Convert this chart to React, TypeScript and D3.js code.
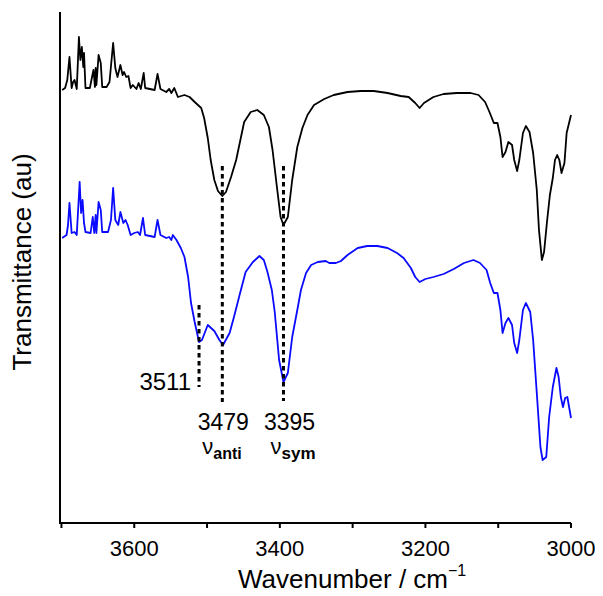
import React from "react";
import * as d3 from "d3";

// [wavenumber (cm-1), transmittance (au)]
const blackSpectrum: [number, number][] = [
  [3699, 433], [3695, 435], [3692, 443], [3689, 466], [3686, 435], [3684, 441], [3682, 443], [3679, 434],
  [3676, 486], [3674, 463], [3672, 476], [3670, 456], [3669, 470], [3667, 435], [3661, 435], [3658, 446],
  [3656, 453], [3654, 436], [3653, 455], [3652, 438], [3649, 468], [3646, 460], [3644, 436], [3638, 436],
  [3634, 441], [3629, 480], [3626, 455], [3623, 446], [3619, 458], [3616, 448], [3614, 451], [3611, 446],
  [3608, 447], [3605, 435], [3602, 438], [3597, 434], [3594, 440], [3591, 434], [3587, 450], [3585, 435],
  [3572, 433], [3568, 449], [3564, 434], [3556, 431], [3552, 434], [3549, 430], [3545, 435], [3540, 426],
  [3531, 428], [3524, 426], [3517, 421], [3508, 415], [3504, 405], [3499, 385], [3495, 363], [3490, 343],
  [3485, 332], [3479, 327], [3474, 331], [3467, 346], [3460, 363], [3449, 401], [3440, 411], [3431, 413],
  [3422, 408], [3415, 396], [3410, 373], [3404, 336], [3399, 306], [3395, 298], [3389, 306], [3383, 343],
  [3376, 376], [3369, 395], [3362, 408], [3353, 418], [3339, 424], [3326, 428], [3307, 431], [3289, 432],
  [3271, 432], [3252, 430], [3234, 427], [3223, 426], [3214, 420], [3208, 415], [3202, 420], [3189, 426],
  [3175, 429], [3157, 430], [3138, 430], [3127, 428], [3118, 421], [3112, 411], [3106, 400], [3101, 400],
  [3097, 386], [3094, 366], [3090, 371], [3086, 381], [3081, 378], [3078, 363], [3074, 352], [3071, 363],
  [3066, 390], [3062, 397], [3057, 391], [3052, 370], [3047, 333], [3044, 293], [3040, 263], [3037, 271],
  [3033, 301], [3029, 328], [3025, 345], [3022, 363], [3019, 368], [3016, 363], [3013, 350], [3009, 360],
  [3006, 390], [3000, 408],
];

const blueSpectrum: [number, number][] = [
  [3699, 285], [3693, 288], [3691, 298], [3689, 320], [3686, 290], [3682, 291], [3679, 288], [3675, 341],
  [3673, 310], [3671, 323], [3669, 300], [3667, 291], [3660, 290], [3657, 306], [3655, 290], [3653, 308],
  [3652, 290], [3649, 321], [3646, 313], [3644, 291], [3636, 291], [3632, 303], [3629, 335], [3626, 303],
  [3622, 298], [3619, 311], [3615, 300], [3612, 303], [3609, 298], [3605, 288], [3600, 290], [3595, 291],
  [3592, 288], [3588, 305], [3585, 288], [3572, 286], [3568, 303], [3564, 288], [3556, 285], [3552, 286],
  [3549, 283], [3547, 288], [3542, 283], [3536, 275], [3531, 266], [3526, 246], [3522, 220], [3517, 201],
  [3511, 181], [3507, 183], [3499, 198], [3490, 192], [3483, 183], [3478, 178], [3469, 190], [3463, 206],
  [3456, 226], [3447, 251], [3437, 261], [3428, 267], [3422, 263], [3417, 251], [3411, 233], [3407, 211],
  [3401, 163], [3395, 141], [3389, 150], [3383, 186], [3376, 213], [3371, 233], [3364, 250], [3357, 258],
  [3348, 261], [3337, 262], [3332, 260], [3323, 260], [3316, 262], [3307, 268], [3293, 275], [3280, 277],
  [3266, 277], [3252, 275], [3239, 270], [3230, 265], [3220, 255], [3214, 246], [3208, 241], [3200, 244],
  [3189, 246], [3175, 249], [3161, 254], [3147, 260], [3134, 263], [3125, 260], [3116, 253], [3111, 240],
  [3106, 230], [3101, 230], [3097, 213], [3094, 190], [3090, 200], [3086, 205], [3081, 198], [3078, 180],
  [3074, 170], [3071, 183], [3066, 213], [3062, 220], [3056, 211], [3052, 183], [3047, 130], [3042, 76],
  [3039, 63], [3034, 66], [3030, 106], [3025, 136], [3020, 155], [3017, 146], [3014, 126], [3011, 116],
  [3008, 125], [3005, 126], [3000, 105],
];

const xTicks = [3700, 3600, 3500, 3400, 3300, 3200, 3100, 3000];
const xTickLabels = [3600, 3400, 3200, 3000];

// peak markers: wavenumber, top/bottom of dotted line (au)
const peakWn = [3511, 3479, 3395];
const peakTop = [218, 357, 357];
const peakBottom = [136, 121, 122];
const peakLabels = ["3511", "3479", "3395"];
const modeLabels = ["", "anti", "sym"];

const W = 603;
const H = 596;
const FONT = "'Liberation Sans', Arial, Helvetica, sans-serif";

export default function App() {
  const x = d3.scaleLinear().domain([3702, 3000]).range([60, 571]);
  const y = d3.scaleLinear().domain([0, 511]).range([523, 12]);
  const line = d3
    .line<[number, number]>()
    .x((d) => x(d[0]))
    .y((d) => y(d[1]));

  return (
    <svg
      width={W}
      height={H}
      style={{ position: "absolute", left: 0, top: 0, background: "#fff" }}
      fontFamily={FONT}
    >
      <rect x={0} y={0} width={W} height={H} fill="#fff" />
      {/* curves */}
      <path d={line(blackSpectrum) || ""} fill="none" stroke="#000" strokeWidth={1.8} strokeLinejoin="round" />
      <path d={line(blueSpectrum) || ""} fill="none" stroke="#0a0aff" strokeWidth={1.8} strokeLinejoin="round" />

      {/* dotted markers */}
      {peakWn.map((w, i) => (
        <line
          key={"pk" + i}
          x1={x(w)}
          x2={x(w)}
          y1={y(peakTop[i])}
          y2={y(peakBottom[i])}
          stroke="#000"
          strokeWidth={3}
          strokeDasharray="4.5,3.5"
        />
      ))}

      {/* annotations */}
      <text x={x(peakWn[0]) - 8} y={390} fontSize={24} textAnchor="end" fill="#000">
        {peakLabels[0]}
      </text>
      <text x={x(peakWn[1]) + 1} y={430} fontSize={23} textAnchor="middle" fill="#000">
        {peakLabels[1]}
      </text>
      <text x={x(peakWn[2]) + 6} y={430} fontSize={23} textAnchor="middle" fill="#000">
        {peakLabels[2]}
      </text>
      <text x={x(peakWn[1]) - 20} y={454} fontSize={22} fill="#000">
        ν
        <tspan fontSize={16} fontWeight="bold" dy={5}>
          {modeLabels[1]}
        </tspan>
      </text>
      <text x={x(peakWn[2]) - 13} y={454} fontSize={22} fill="#000">
        ν
        <tspan fontSize={17} fontWeight="bold" dy={5}>
          {modeLabels[2]}
        </tspan>
      </text>

      {/* axes */}
      <line x1={60} x2={60} y1={12} y2={524} stroke="#000" strokeWidth={2} />
      <line x1={59} x2={571} y1={523} y2={523} stroke="#000" strokeWidth={2} />
      {xTicks.map((t) => (
        <line key={"t" + t} x1={x(t)} x2={x(t)} y1={523} y2={528} stroke="#000" strokeWidth={2} />
      ))}
      {xTickLabels.map((t) => (
        <text key={"l" + t} x={x(t)} y={556} fontSize={22} textAnchor="middle" fill="#000">
          {t}
        </text>
      ))}
      <text x={238} y={588} fontSize={26} fill="#000">
        Wavenumber / cm
        <tspan fontSize={16} dy={-12}>
          −1
        </tspan>
      </text>
      <text
        transform={`translate(31, 262) rotate(-90)`}
        fontSize={26}
        textAnchor="middle"
        fill="#000"
      >
        Transmittance (au)
      </text>
    </svg>
  );
}
